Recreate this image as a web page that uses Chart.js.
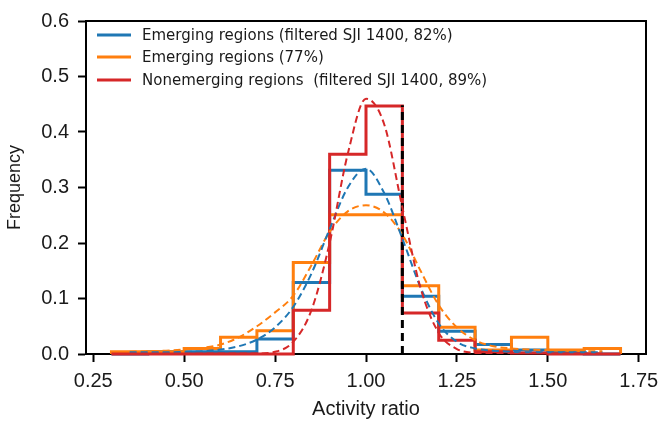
<!DOCTYPE html>
<html>
<head>
<meta charset="utf-8">
<script src="https://cdn.jsdelivr.net/npm/chart.js@4/dist/chart.umd.min.js"></script>
<style>
  html, body { margin: 0; padding: 0; background: #ffffff; }
  #chart { display: block; }
</style>
</head>
<body>
<canvas id="chart" width="663" height="425"></canvas>
<script>
// bin edges of the histograms (activity ratio)
const binEdges = [0.3, 0.4, 0.5, 0.6, 0.7, 0.8, 0.9, 1.0, 1.1, 1.2, 1.3, 1.4, 1.5, 1.6, 1.7];

// frequency per bin
const emergingSji = [0, 0.004, 0.004, 0.004, 0.027, 0.129, 0.331, 0.288, 0.104, 0.041, 0.017, 0.007, 0.004, 0];
const emergingAll = [0.004, 0.004, 0.010, 0.030, 0.042, 0.165, 0.251, 0.251, 0.123, 0.048, 0.007, 0.030, 0.007, 0.010];
const nonemergingSji = [0, 0, 0, 0, 0, 0.079, 0.360, 0.447, 0.074, 0.025, 0.004, 0.002, 0, 0];

// fitted curves (dashed)
const fitX = [0.35, 0.40, 0.45, 0.50, 0.55, 0.60, 0.65, 0.70, 0.75, 0.80, 0.85, 0.90, 0.95, 1.00,
              1.05, 1.10, 1.15, 1.20, 1.25, 1.30, 1.35, 1.40, 1.45, 1.50, 1.55, 1.60, 1.65];
const fitEmergingSji = [0.003, 0.003, 0.003, 0.004, 0.005, 0.008, 0.014, 0.026, 0.048, 0.085, 0.145, 0.225, 0.300, 0.334,
                        0.290, 0.208, 0.120, 0.055, 0.022, 0.010, 0.006, 0.004, 0.003, 0.003, 0.003, 0.003, 0.003];
const fitEmergingAll = [0.004, 0.005, 0.006, 0.008, 0.011, 0.017, 0.030, 0.050, 0.075, 0.105, 0.160, 0.220, 0.257, 0.268,
                        0.255, 0.215, 0.150, 0.088, 0.048, 0.025, 0.014, 0.010, 0.008, 0.007, 0.006, 0.005, 0.005];
const fitNonemergingSji = [0.001, 0.001, 0.001, 0.001, 0.001, 0.001, 0.001, 0.001, 0.004, 0.022, 0.079, 0.200, 0.361, 0.460,
                           0.414, 0.264, 0.119, 0.038, 0.009, 0.002, 0.001, 0.001, 0.001, 0.001, 0.001, 0.001, 0.001];

// threshold line
const thresholdX = 1.1;
const thresholdTop = 0.448;

const xTicks = [0.25, 0.5, 0.75, 1.0, 1.25, 1.5, 1.75];
const yTicks = [0.0, 0.1, 0.2, 0.3, 0.4, 0.5, 0.6];

const legendLabels = [
    "Emerging regions (filtered SJI 1400, 82%)",
    "Emerging regions (77%)",
    "Nonemerging regions  (filtered SJI 1400, 89%)",
];

const BLUE = "#1f77b4";
const ORANGE = "#ff7f0e";
const RED = "#d62728";

// outline of a step histogram: up at the first edge, across each bin, down at the last edge
function stepPoints(edges, vals) {
    const pts = [{ x: edges[0], y: 0 }];
    vals.forEach((v, i) => pts.push({ x: edges[i], y: v }));
    pts.push({ x: edges[edges.length - 1], y: 0 });
    return pts;
}

function curvePoints(xs, ys) {
    return xs.map((x, i) => ({ x: x, y: ys[i] }));
}

function histSet(vals, color) {
    return {
        data: stepPoints(binEdges, vals),
        borderColor: color,
        borderWidth: 3,
        stepped: "before",
        pointRadius: 0,
        fill: false,
        clip: false,
    };
}

function fitSet(vals, color) {
    return {
        data: curvePoints(fitX, vals),
        borderColor: color,
        borderWidth: 2,
        borderDash: [7, 4],
        cubicInterpolationMode: "monotone",
        pointRadius: 0,
        fill: false,
    };
}

// box around the plot + legend inside the axes
const framePlugin = {
    id: "frame",
    afterDraw(chart) {
        const { ctx, chartArea } = chart;
        ctx.save();
        ctx.strokeStyle = "#000000";
        ctx.lineWidth = 2;
        ctx.beginPath();
        ctx.moveTo(chartArea.left, chartArea.top);
        ctx.lineTo(chartArea.right, chartArea.top);
        ctx.lineTo(chartArea.right, chartArea.bottom);
        ctx.stroke();

        const colors = [BLUE, ORANGE, RED];
        const rowY = [35, 57, 80];
        ctx.font = "15px 'DejaVu Sans'";
        ctx.textBaseline = "middle";
        ctx.fillStyle = "#1a1a1a";
        legendLabels.forEach((label, i) => {
            ctx.strokeStyle = colors[i];
            ctx.lineWidth = 3;
            ctx.beginPath();
            ctx.moveTo(97, rowY[i]);
            ctx.lineTo(131, rowY[i]);
            ctx.stroke();
            ctx.fillText(label, 142, rowY[i] + 1);
        });
        ctx.restore();
    },
};

new Chart(document.getElementById("chart").getContext("2d"), {
    type: "line",
    data: {
        datasets: [
            fitSet(fitNonemergingSji, RED),
            fitSet(fitEmergingSji, BLUE),
            fitSet(fitEmergingAll, ORANGE),
            {
                data: [{ x: thresholdX, y: 0 }, { x: thresholdX, y: thresholdTop }],
                borderColor: "#000000",
                borderWidth: 3,
                borderDash: [8, 5],
                pointRadius: 0,
                fill: false,
            },
            histSet(nonemergingSji, RED),
            histSet(emergingAll, ORANGE),
            histSet(emergingSji, BLUE),
        ],
    },
    options: {
        responsive: false,
        animation: false,
        layout: { padding: { top: 14, right: 17, left: 0, bottom: 0 } },
        plugins: {
            legend: { display: false },
            tooltip: { enabled: false },
        },
        scales: {
            x: {
                type: "linear",
                min: 0.23,
                max: 1.77,
                afterBuildTicks: (scale) => { scale.ticks = xTicks.map((v) => ({ value: v })); },
                afterFit: (scale) => {
                    scale.height = 71;
                    scale.paddingLeft = 0;
                    scale.paddingRight = 0;
                },
                grid: { drawOnChartArea: false, tickLength: 8, tickWidth: 2, tickColor: "#000000" },
                border: { display: true, color: "#000000", width: 2 },
                ticks: {
                    color: "#1a1a1a",
                    padding: 7,
                    maxRotation: 0,
                    font: { family: "'Liberation Sans'", size: 20 },
                    callback: (v) => Number(v).toFixed(2),
                },
                title: {
                    display: true,
                    text: "Activity ratio",
                    color: "#1a1a1a",
                    font: { family: "'Liberation Sans'", size: 20 },
                },
            },
            y: {
                min: 0,
                max: 0.6,
                afterBuildTicks: (scale) => { scale.ticks = yTicks.map((v) => ({ value: v })); },
                afterFit: (scale) => { scale.width = 86; },
                grid: { drawOnChartArea: false, tickLength: 8, tickWidth: 2, tickColor: "#000000" },
                border: { display: true, color: "#000000", width: 2 },
                ticks: {
                    color: "#1a1a1a",
                    padding: 9,
                    font: { family: "'Liberation Sans'", size: 20 },
                    callback: (v) => Number(v).toFixed(1),
                },
                title: {
                    display: true,
                    text: "Frequency",
                    color: "#1a1a1a",
                    font: { family: "'Liberation Sans'", size: 18 },
                },
            },
        },
    },
    plugins: [framePlugin],
});
</script>
</body>
</html>
